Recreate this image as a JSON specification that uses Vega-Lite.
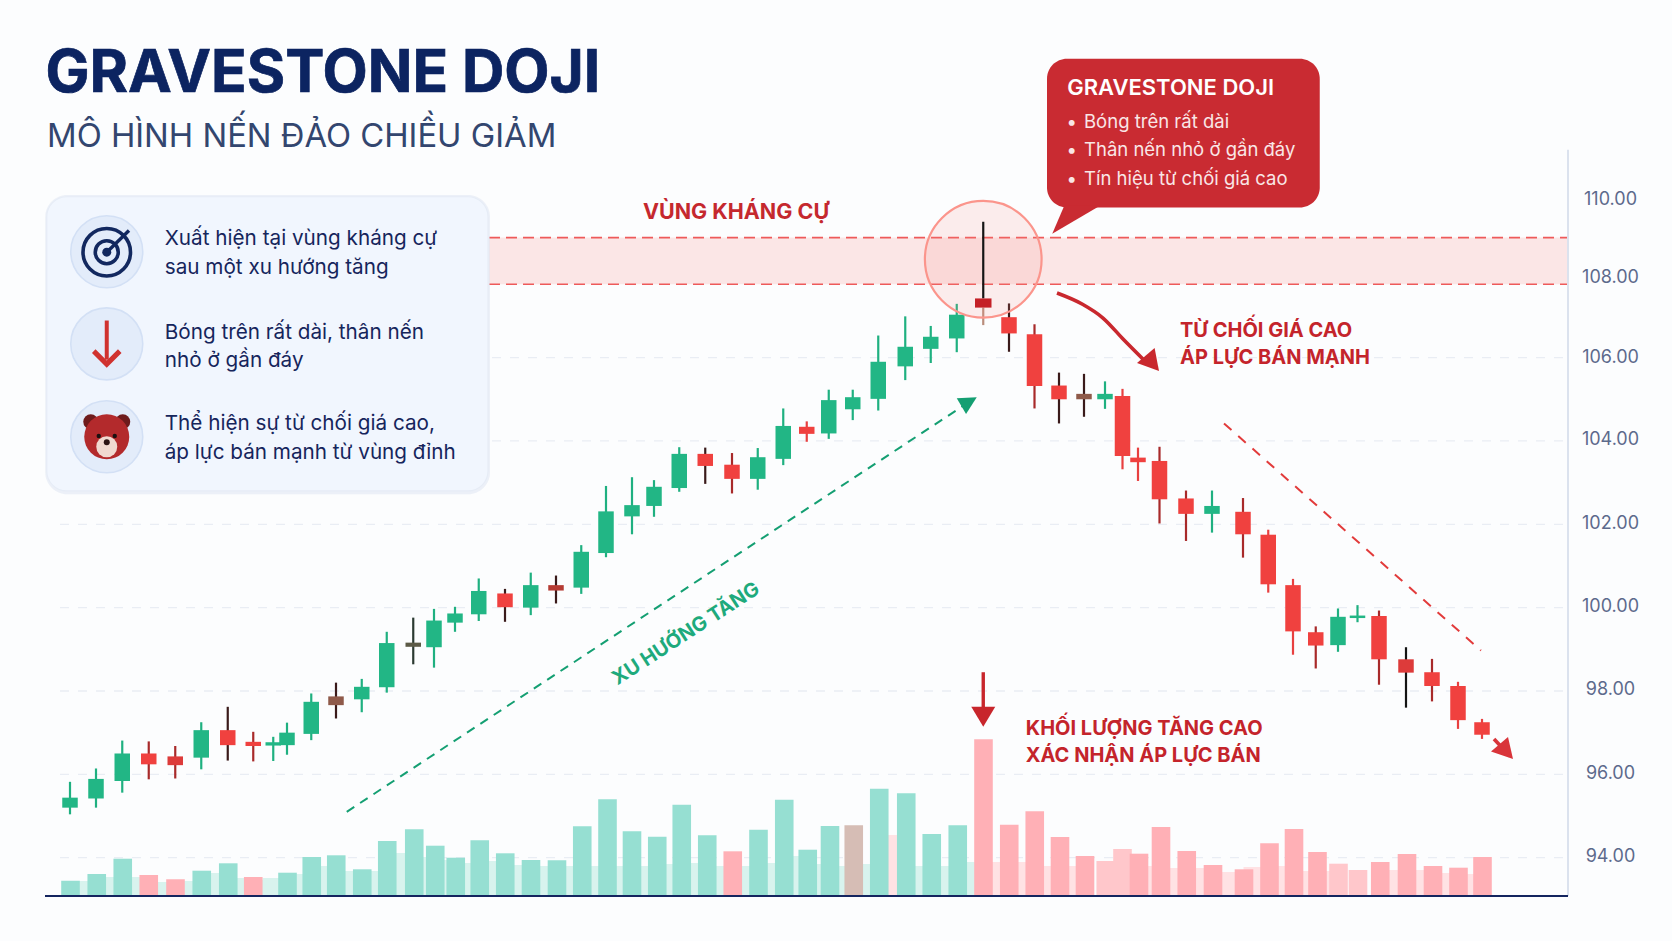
{
"$schema":"https://vega.github.io/schema/vega-lite/v6.json",
"width":1523,"height":748,"autosize":"none",
"padding":{"left":45,"top":148,"right":104,"bottom":45},
"background":"#fcfdfe",
"config":{"view":{"stroke":null},"text":{"font":"Inter"},"scale":{"continuousPadding":0}},
"datasets":{
"candles":[
{"t":0,"high":95.82,"open":95.2,"close":95.44,"low":95.04,"body":"bUp","wick":"wUp"},
{"t":1.04,"high":96.14,"open":95.42,"close":95.89,"low":95.2,"body":"bUp","wick":"wUp"},
{"t":2.09,"high":96.81,"open":95.84,"close":96.5,"low":95.56,"body":"bUp","wick":"wUp"},
{"t":3.15,"high":96.79,"open":96.5,"close":96.24,"low":95.88,"body":"bDown","wick":"wDeep"},
{"t":4.21,"high":96.68,"open":96.43,"close":96.22,"low":95.9,"body":"bMuted","wick":"wDeep"},
{"t":5.25,"high":97.25,"open":96.4,"close":97.06,"low":96.12,"body":"bUp","wick":"wUp"},
{"t":6.31,"high":97.62,"open":97.06,"close":96.7,"low":96.33,"body":"bDown","wick":"wDark"},
{"t":7.33,"high":97.02,"open":96.78,"close":96.68,"low":96.31,"body":"bDown","wick":"wDeep"},
{"t":8.13,"high":96.9,"open":96.69,"close":96.77,"low":96.32,"body":"bUp","wick":"wUp"},
{"t":8.68,"high":97.24,"open":96.7,"close":97,"low":96.47,"body":"bUp","wick":"wUp"},
{"t":9.65,"high":97.94,"open":96.97,"close":97.74,"low":96.82,"body":"bUp","wick":"wUp"},
{"t":10.64,"high":98.2,"open":97.87,"close":97.66,"low":97.34,"body":"bBrown","wick":"wDark"},
{"t":11.67,"high":98.29,"open":97.8,"close":98.1,"low":97.49,"body":"bUp","wick":"wUp"},
{"t":12.67,"high":99.42,"open":98.09,"close":99.15,"low":97.96,"body":"bUp","wick":"wUp"},
{"t":13.73,"high":99.76,"open":99.16,"close":99.06,"low":98.64,"body":"bOlive","wick":"wOlive"},
{"t":14.56,"high":99.97,"open":99.05,"close":99.69,"low":98.56,"body":"bUp","wick":"wUp"},
{"t":15.4,"high":100.02,"open":99.64,"close":99.86,"low":99.42,"body":"bUp","wick":"wUp"},
{"t":16.35,"high":100.7,"open":99.84,"close":100.4,"low":99.68,"body":"bUp","wick":"wUp"},
{"t":17.4,"high":100.45,"open":100.34,"close":100.01,"low":99.66,"body":"bDown","wick":"wDark"},
{"t":18.43,"high":100.84,"open":100,"close":100.54,"low":99.82,"body":"bUp","wick":"wUp"},
{"t":19.44,"high":100.77,"open":100.54,"close":100.41,"low":100.1,"body":"bMaroon","wick":"wDark"},
{"t":20.45,"high":101.5,"open":100.48,"close":101.34,"low":100.33,"body":"bUp","wick":"wUp"},
{"t":21.44,"high":102.92,"open":101.31,"close":102.31,"low":101.21,"body":"bUp","wick":"wUp"},
{"t":22.48,"high":103.13,"open":102.19,"close":102.46,"low":101.76,"body":"bUp","wick":"wUp"},
{"t":23.36,"high":103.06,"open":102.44,"close":102.9,"low":102.18,"body":"bUp","wick":"wUp"},
{"t":24.37,"high":103.85,"open":102.87,"close":103.69,"low":102.78,"body":"bUp","wick":"wUp"},
{"t":25.41,"high":103.84,"open":103.69,"close":103.4,"low":102.97,"body":"bDown","wick":"wDark"},
{"t":26.48,"high":103.71,"open":103.43,"close":103.09,"low":102.74,"body":"bDown","wick":"wDeep"},
{"t":27.51,"high":103.83,"open":103.09,"close":103.61,"low":102.83,"body":"bUp","wick":"wUp"},
{"t":28.53,"high":104.78,"open":103.57,"close":104.36,"low":103.42,"body":"bUp","wick":"wUp"},
{"t":29.47,"high":104.47,"open":104.34,"close":104.17,"low":103.98,"body":"bDown","wick":"wDown"},
{"t":30.35,"high":105.23,"open":104.18,"close":104.98,"low":104.05,"body":"bUp","wick":"wUp"},
{"t":31.31,"high":105.23,"open":104.76,"close":105.05,"low":104.5,"body":"bUp","wick":"wUp"},
{"t":32.33,"high":106.53,"open":105.01,"close":105.9,"low":104.73,"body":"bUp","wick":"wUp"},
{"t":33.41,"high":106.99,"open":105.79,"close":106.26,"low":105.46,"body":"bUp","wick":"wUp"},
{"t":34.43,"high":106.76,"open":106.21,"close":106.5,"low":105.87,"body":"bUp","wick":"wUp"},
{"t":35.47,"high":107.29,"open":106.46,"close":107.03,"low":106.13,"body":"bUp","wick":"wUp"},
{"t":36.53,"high":109.26,"open":107.42,"close":107.2,"low":106.78,"body":"bDoji","wick":"wBlack"},
{"t":37.56,"high":107.3,"open":106.97,"close":106.58,"low":106.14,"body":"bDown","wick":"wDark"},
{"t":38.58,"high":106.8,"open":106.56,"close":105.32,"low":104.78,"body":"bDown","wick":"wDeep"},
{"t":39.56,"high":105.64,"open":105.33,"close":105,"low":104.42,"body":"bDown","wick":"wDark"},
{"t":40.56,"high":105.61,"open":105.13,"close":105,"low":104.58,"body":"bBrown","wick":"wDark"},
{"t":41.4,"high":105.43,"open":105,"close":105.13,"low":104.77,"body":"bUp","wick":"wUp"},
{"t":42.1,"high":105.25,"open":105.08,"close":103.64,"low":103.32,"body":"bDown","wick":"wDown"},
{"t":42.72,"high":103.84,"open":103.6,"close":103.49,"low":103.04,"body":"bDown","wick":"wDown"},
{"t":43.58,"high":103.86,"open":103.52,"close":102.6,"low":102.02,"body":"bDown","wick":"wDeep"},
{"t":44.64,"high":102.81,"open":102.62,"close":102.25,"low":101.6,"body":"bDown","wick":"wDeep"},
{"t":45.68,"high":102.81,"open":102.25,"close":102.44,"low":101.8,"body":"bUp","wick":"wUp"},
{"t":46.92,"high":102.63,"open":102.3,"close":101.76,"low":101.2,"body":"bDown","wick":"wDeep"},
{"t":47.93,"high":101.87,"open":101.75,"close":100.56,"low":100.36,"body":"bDown","wick":"wDown"},
{"t":48.92,"high":100.69,"open":100.54,"close":99.43,"low":98.87,"body":"bDown","wick":"wDown"},
{"t":49.83,"high":99.55,"open":99.41,"close":99.09,"low":98.54,"body":"bDown","wick":"wDeep"},
{"t":50.72,"high":99.98,"open":99.1,"close":99.78,"low":98.94,"body":"bUp","wick":"wUp"},
{"t":51.5,"high":100.06,"open":99.75,"close":99.81,"low":99.65,"body":"bUp","wick":"wUp"},
{"t":52.36,"high":99.93,"open":99.8,"close":98.76,"low":98.15,"body":"bDown","wick":"wDeep"},
{"t":53.44,"high":99.05,"open":98.76,"close":98.44,"low":97.6,"body":"bMuted","wick":"wBlack"},
{"t":54.48,"high":98.77,"open":98.45,"close":98.12,"low":97.75,"body":"bDown","wick":"wDeep"},
{"t":55.52,"high":98.22,"open":98.12,"close":97.3,"low":97.09,"body":"bDown","wick":"wDown"},
{"t":56.48,"high":97.33,"open":97.25,"close":96.95,"low":96.85,"body":"bDown","wick":"wDown"}
],
"volume":[
{"t":0.02,"v":153,"c":"vTeal"},{"t":1.07,"v":220,"c":"vTeal"},{"t":2.11,"v":373,"c":"vTeal"},{"t":3.15,"v":210,"c":"vPink"},{"t":4.22,"v":167,"c":"vPink"},{"t":5.27,"v":253,"c":"vTeal"},{"t":6.33,"v":327,"c":"vTeal"},{"t":7.33,"v":190,"c":"vPink"},{"t":8.7,"v":233,"c":"vTeal"},{"t":9.67,"v":390,"c":"vTeal"},{"t":10.65,"v":407,"c":"vTeal"},{"t":11.69,"v":267,"c":"vTeal"},{"t":12.69,"v":550,"c":"vTeal"},{"t":13.77,"v":667,"c":"vTeal"},{"t":14.61,"v":503,"c":"vTeal"},{"t":15.43,"v":383,"c":"vTeal"},{"t":16.39,"v":557,"c":"vTeal"},{"t":17.41,"v":427,"c":"vTeal"},{"t":18.44,"v":360,"c":"vTeal"},{"t":19.48,"v":357,"c":"vTeal"},{"t":20.49,"v":697,"c":"vTeal"},{"t":21.5,"v":967,"c":"vTeal"},{"t":22.48,"v":647,"c":"vTeal"},{"t":23.49,"v":593,"c":"vTeal"},{"t":24.47,"v":913,"c":"vTeal"},{"t":25.49,"v":607,"c":"vTeal"},{"t":26.51,"v":447,"c":"vPink"},{"t":27.54,"v":663,"c":"vTeal"},{"t":28.57,"v":963,"c":"vTeal"},{"t":29.51,"v":463,"c":"vTeal"},{"t":30.4,"v":700,"c":"vTeal"},{"t":31.35,"v":707,"c":"vTan"},{"t":32.37,"v":1073,"c":"vTeal"},{"t":33.45,"v":1027,"c":"vTeal"},{"t":34.47,"v":620,"c":"vTeal"},{"t":35.51,"v":707,"c":"vTeal"},{"t":36.54,"v":1567,"c":"vPink"},{"t":37.57,"v":713,"c":"vPink"},{"t":38.59,"v":847,"c":"vPink"},{"t":39.6,"v":590,"c":"vPink"},{"t":40.6,"v":400,"c":"vPink"},{"t":41.43,"v":350,"c":"vPinkLight"},{"t":42.1,"v":470,"c":"vPinkLight"},{"t":42.76,"v":423,"c":"vPink"},{"t":43.64,"v":690,"c":"vPink"},{"t":44.67,"v":450,"c":"vPink"},{"t":45.72,"v":310,"c":"vPink"},{"t":46.96,"v":267,"c":"vPink"},{"t":47.98,"v":527,"c":"vPink"},{"t":48.96,"v":670,"c":"vPink"},{"t":49.9,"v":440,"c":"vPink"},{"t":50.74,"v":323,"c":"vPinkLight"},{"t":51.52,"v":260,"c":"vPinkLight"},{"t":52.41,"v":340,"c":"vPink"},{"t":53.48,"v":420,"c":"vPink"},{"t":54.52,"v":300,"c":"vPink"},{"t":55.54,"v":283,"c":"vPink"},{"t":56.5,"v":390,"c":"vPink"}
],
"faint":[
{"t":0.52,"v":150,"c":"fTeal"},{"t":1.6,"v":190,"c":"fTeal"},{"t":2.64,"v":190,"c":"fTeal"},{"t":3.68,"v":140,"c":"fTeal"},{"t":4.72,"v":150,"c":"fTeal"},{"t":5.8,"v":230,"c":"fTeal"},{"t":6.84,"v":180,"c":"fTeal"},{"t":7.84,"v":160,"c":"fTeal"},{"t":8.08,"v":180,"c":"fTeal"},{"t":9.16,"v":220,"c":"fTeal"},{"t":10.16,"v":300,"c":"fTeal"},{"t":11.16,"v":250,"c":"fTeal"},{"t":12.2,"v":250,"c":"fTeal"},{"t":13.2,"v":430,"c":"fTeal"},{"t":14.2,"v":390,"c":"fTeal"},{"t":15,"v":360,"c":"fTeal"},{"t":15.88,"v":330,"c":"fTeal"},{"t":16.88,"v":350,"c":"fTeal"},{"t":17.92,"v":310,"c":"fTeal"},{"t":18.96,"v":300,"c":"fTeal"},{"t":20,"v":300,"c":"fTeal"},{"t":21,"v":300,"c":"fTeal"},{"t":22,"v":300,"c":"fTeal"},{"t":23,"v":300,"c":"fTeal"},{"t":24,"v":320,"c":"fTeal"},{"t":25,"v":330,"c":"fTeal"},{"t":26,"v":300,"c":"fTeal"},{"t":27,"v":300,"c":"fTeal"},{"t":28.04,"v":330,"c":"fTeal"},{"t":29.04,"v":400,"c":"fTeal"},{"t":29.96,"v":320,"c":"fTeal"},{"t":30.88,"v":300,"c":"fTeal"},{"t":31.84,"v":320,"c":"fTeal"},{"t":32.92,"v":610,"c":"fPink"},{"t":33.92,"v":300,"c":"fTeal"},{"t":35,"v":300,"c":"fTeal"},{"t":36,"v":340,"c":"fTeal"},{"t":37.08,"v":340,"c":"fPink"},{"t":38.08,"v":340,"c":"fPink"},{"t":39.08,"v":300,"c":"fPink"},{"t":40.08,"v":300,"c":"fPink"},{"t":43.2,"v":300,"c":"fPink"},{"t":44.16,"v":280,"c":"fPink"},{"t":45.2,"v":280,"c":"fPink"},{"t":46.32,"v":240,"c":"fPink"},{"t":47.32,"v":290,"c":"fPink"},{"t":48.44,"v":300,"c":"fPink"},{"t":49.44,"v":250,"c":"fPink"},{"t":50.32,"v":250,"c":"fPink"},{"t":52.92,"v":260,"c":"fPink"},{"t":53.96,"v":260,"c":"fPink"},{"t":55,"v":230,"c":"fPink"},{"t":56,"v":220,"c":"fPink"}
],
"grid":[{"t":-0.4,"t2":59.92,"p":94},{"t":-0.4,"t2":59.92,"p":96},{"t":-0.4,"t2":59.92,"p":98},{"t":-0.4,"t2":59.92,"p":100},{"t":-0.4,"t2":59.92,"p":102},{"t":-0.4,"t2":59.92,"p":104},{"t":-0.4,"t2":59.92,"p":106}],
"zone":[{"t":16.76,"t2":59.92,"p":108.88,"p2":107.76}],
"boxes":[
{"kind":"panelShadow","t":-0.99,"t2":16.8,"p":109.9,"p2":102.72},
{"kind":"panel","t":-0.93,"t2":16.72,"p":109.86,"p2":102.8},
{"kind":"callout","t":39.08,"t2":49.99,"p":113.17,"p2":109.6}
],
"notes":[
{"kind":"title","t":-0.98,"p":112.9,"text":"GRAVESTONE DOJI"},
{"kind":"subtitle","t":-0.92,"p":111.37,"text":"MÔ HÌNH NẾN ĐẢO CHIỀU GIẢM"},
{"kind":"panelText","t":3.79,"p":108.87,"text":"Xuất hiện tại vùng kháng cự"},
{"kind":"panelText","t":3.79,"p":108.17,"text":"sau một xu hướng tăng"},
{"kind":"panelText","t":3.79,"p":106.62,"text":"Bóng trên rất dài, thân nến"},
{"kind":"panelText","t":3.79,"p":105.94,"text":"nhỏ ở gần đáy"},
{"kind":"panelText","t":3.79,"p":104.43,"text":"Thể hiện sự từ chối giá cao,"},
{"kind":"panelText","t":3.79,"p":103.74,"text":"áp lực bán mạnh từ vùng đỉnh"},
{"kind":"calloutTitle","t":39.89,"p":112.46,"text":"GRAVESTONE DOJI"},
{"kind":"calloutText","t":40.56,"p":111.66,"text":"Bóng trên rất dài"},
{"kind":"calloutText","t":40.56,"p":111,"text":"Thân nến nhỏ ở gần đáy"},
{"kind":"calloutText","t":40.56,"p":110.3,"text":"Tín hiệu từ chối giá cao"},
{"kind":"calloutText","t":39.86,"p":111.66,"text":"•"},
{"kind":"calloutText","t":39.86,"p":111,"text":"•"},
{"kind":"calloutText","t":39.86,"p":110.3,"text":"•"},
{"kind":"redLabel","t":44.4,"p":106.66,"text":"TỪ CHỐI GIÁ CAO"},
{"kind":"redLabel","t":44.4,"p":106.02,"text":"ÁP LỰC BÁN MẠNH"},
{"kind":"redLabel","t":38.23,"p":97.12,"text":"KHỐI LƯỢNG TĂNG CAO"},
{"kind":"redLabel","t":38.23,"p":96.46,"text":"XÁC NHẬN ÁP LỰC BÁN"},
{"kind":"zoneLabel","t":26.64,"p":109.52,"text":"VÙNG KHÁNG CỰ"},
{"kind":"trendLabel","t":24.64,"p":99.37,"text":"XU HƯỚNG TĂNG"}
],
"paths":[
{"path":"green","n":0,"t":11.07,"p":95.1},{"path":"green","n":1,"t":35.72,"p":104.84},
{"path":"redDash","n":0,"t":46.16,"p":104.42},{"path":"redDash","n":1,"t":56.44,"p":98.97},
{"path":"curve","n":0,"t":39.48,"p":107.55},{"path":"curve","n":1,"t":40.5,"p":107.28},{"path":"curve","n":2,"t":41.32,"p":106.95},{"path":"curve","n":3,"t":42.16,"p":106.42},{"path":"curve","n":4,"t":43.04,"p":105.89},
{"path":"stem","n":0,"t":56.96,"p":96.85},{"path":"stem","n":1,"t":57.6,"p":96.44},
{"path":"volStem","n":0,"t":36.53,"p":98.45},{"path":"volStem","n":1,"t":36.53,"p":97.54},
{"path":"iconDial","n":0,"t":1.47,"p":108.53},{"path":"iconDial","n":1,"t":2.36,"p":109.05},
{"path":"iconDown","n":0,"t":1.47,"p":106.89},{"path":"iconDown","n":1,"t":1.47,"p":105.95}
],
"heads":[
{"name":"green","t":36.27,"p":105.05},
{"name":"curve","t":43.56,"p":105.68},
{"name":"stem","t":57.72,"p":96.37},
{"name":"vol","t":36.53,"p":97.14},
{"name":"tail","t":39.29,"p":108.97},
{"name":"icon","t":1.47,"p":105.82}
],
"icons":[
{"part":"disc","t":1.47,"p":108.54},{"part":"disc","t":1.47,"p":106.33},{"part":"disc","t":1.47,"p":104.1},
{"part":"ear","t":0.83,"p":104.46},{"part":"ear","t":2.11,"p":104.46},
{"part":"head","t":1.47,"p":104.1},
{"part":"muzzle","t":1.47,"p":103.86},
{"part":"eye","t":1.15,"p":104.12},{"part":"eye","t":1.79,"p":104.12},
{"part":"nose","t":1.47,"p":103.97},
{"part":"hub","t":1.47,"p":108.53}
],
"rings":[{"r":"outer","t":1.47,"p":108.53},{"r":"inner","t":1.47,"p":108.53}],
"spot":[{"t":36.53,"p":108.36}]
},
"layer":[
{"data":{"name":"grid"},"mark":{"type":"rule","color":"#e9edf4","strokeWidth":1.3,"strokeDash":[9,9]},
 "encoding":{
  "x":{"field":"t","type":"quantitative","scale":{"domain":[-1,59.92],"nice":false,"zero":false,"padding":0},"axis":null},
  "x2":{"field":"t2"},
  "y":{"field":"p","type":"quantitative","scale":{"domain":[93.08,111.03],"nice":false,"zero":false},
   "axis":{"orient":"right","title":null,"values":[94,96,98,100,102,104,106,108,110],"format":".2f","grid":false,"ticks":false,"domain":false,"labelAlign":"center","labelPadding":42,"labelFont":"Inter","labelFontSize":18,"labelColor":"#5c6a8c","labelBound":false,"labelOverlap":false,
    "labelOffset":{"condition":[{"test":"datum.value>=110","value":8.8},{"test":"datum.value>=108","value":3.5},{"test":"datum.value>=106","value":0.3}],"value":-1}}}
 }},
{"encoding":{
  "x":{"field":"t","type":"quantitative","scale":{"domain":[-1,59.92],"nice":false,"zero":false,"padding":0},"axis":null},
  "y":{"field":"p","type":"quantitative","scale":{"domain":[93.08,111.03],"nice":false,"zero":false},"axis":null}},
 "layer":[
  {"data":{"name":"zone"},"mark":{"type":"rect","color":"#fbdcdd","opacity":0.72},"encoding":{"x2":{"field":"t2"},"y2":{"field":"p2"}}},
  {"data":{"name":"zone"},"mark":{"type":"rule","color":"#ee5a5a","strokeWidth":1.6,"strokeDash":[11,6]},"encoding":{"x2":{"field":"t2"}}},
  {"data":{"name":"zone"},"mark":{"type":"rule","color":"#ee5a5a","strokeWidth":1.6,"strokeDash":[11,6]},"encoding":{"x2":{"field":"t2"},"y":{"field":"p2","type":"quantitative","scale":{"domain":[93.08,111.03],"nice":false,"zero":false},"axis":null}}}
 ]},
{"encoding":{
  "x":{"field":"t","type":"quantitative","scale":{"domain":[-1,59.92],"nice":false,"zero":false,"padding":0},"axis":null},
  "y":{"field":"v","type":"quantitative","scale":{"domain":[0,7480],"nice":false,"zero":false},"axis":null},
  "color":{"field":"c","type":"nominal","legend":null,"scale":{"domain":["vTeal","vPink","vPinkLight","vTan","fTeal","fPink","wUp","wDown","wDeep","wDark","wBlack","wOlive","bUp","bDown","bBrown","bOlive","bMaroon","bDoji","bMuted","disc","ear","head","muzzle","eye","nose","hub"],"range":["#96dfd2","#ffb0b6","#ffc7cb","#d6bdb5","#d8f3ee","#ffe2e4","#1fb080","#e84040","#a82a2a","#3a1a1a","#141414","#2b3a32","#22b685","#f0413f","#8f5a4a","#5c5a46","#b53b33","#c42027","#dd3b3a","#e3ecfa","#6e1b1c","#b32a2c","#f0d9d0","#1c1010","#2b1414","#12285f"]}}},
 "layer":[
  {"data":{"name":"faint"},"mark":{"type":"bar","size":19}},
  {"data":{"name":"volume"},"mark":{"type":"bar","size":18.6}}
 ]},
{"encoding":{
  "x":{"field":"t","type":"quantitative","scale":{"domain":[-1,59.92],"nice":false,"zero":false,"padding":0},"axis":null},
  "y":{"field":"p","type":"quantitative","scale":{"domain":[93.08,111.03],"nice":false,"zero":false},"axis":null}},
 "layer":[
  {"data":{"name":"candles"},"transform":[{"filter":"datum.body!='bDoji'"}],"mark":{"type":"rule","strokeWidth":2.2},
   "encoding":{"y":{"field":"high","type":"quantitative","scale":{"domain":[93.08,111.03],"nice":false,"zero":false},"axis":null},"y2":{"field":"low"},
   "color":{"field":"wick","type":"nominal","legend":null,"scale":{"domain":["vTeal","vPink","vPinkLight","vTan","fTeal","fPink","wUp","wDown","wDeep","wDark","wBlack","wOlive","bUp","bDown","bBrown","bOlive","bMaroon","bDoji","bMuted","disc","ear","head","muzzle","eye","nose","hub"],"range":["#96dfd2","#ffb0b6","#ffc7cb","#d6bdb5","#d8f3ee","#ffe2e4","#1fb080","#e84040","#a82a2a","#3a1a1a","#141414","#2b3a32","#22b685","#f0413f","#8f5a4a","#5c5a46","#b53b33","#c42027","#dd3b3a","#e3ecfa","#6e1b1c","#b32a2c","#f0d9d0","#1c1010","#2b1414","#12285f"]}}}},
  {"data":{"name":"candles"},"transform":[{"filter":"datum.body!='bDoji'"}],"mark":{"type":"bar","size":15.5},
   "encoding":{"y":{"field":"open","type":"quantitative","scale":{"domain":[93.08,111.03],"nice":false,"zero":false},"axis":null},"y2":{"field":"close"},
   "color":{"field":"body","type":"nominal","legend":null,"scale":{"domain":["vTeal","vPink","vPinkLight","vTan","fTeal","fPink","wUp","wDown","wDeep","wDark","wBlack","wOlive","bUp","bDown","bBrown","bOlive","bMaroon","bDoji","bMuted","disc","ear","head","muzzle","eye","nose","hub"],"range":["#96dfd2","#ffb0b6","#ffc7cb","#d6bdb5","#d8f3ee","#ffe2e4","#1fb080","#e84040","#a82a2a","#3a1a1a","#141414","#2b3a32","#22b685","#f0413f","#8f5a4a","#5c5a46","#b53b33","#c42027","#dd3b3a","#e3ecfa","#6e1b1c","#b32a2c","#f0d9d0","#1c1010","#2b1414","#12285f"]}}}},
  {"data":{"name":"candles"},"transform":[{"filter":"datum.body=='bDoji'"}],"mark":{"type":"rule","strokeWidth":2.2,"color":"#b98d7c"},
   "encoding":{"y":{"field":"close","type":"quantitative","scale":{"domain":[93.08,111.03],"nice":false,"zero":false},"axis":null},"y2":{"field":"low"}}},
  {"data":{"name":"spot"},"mark":{"type":"point","shape":"circle","filled":true,"size":13619,"fill":"#fb8f86","fillOpacity":0.15,"stroke":"#fb958c","strokeWidth":2.2,"strokeOpacity":1}},
  {"data":{"name":"candles"},"transform":[{"filter":"datum.body=='bDoji'"}],"mark":{"type":"rule","strokeWidth":2.2,"color":"#141414"},
   "encoding":{"y":{"field":"high","type":"quantitative","scale":{"domain":[93.08,111.03],"nice":false,"zero":false},"axis":null},"y2":{"field":"open"}}},
  {"data":{"name":"candles"},"transform":[{"filter":"datum.body=='bDoji'"}],"mark":{"type":"bar","size":16.5,"color":"#c42027"},
   "encoding":{"y":{"field":"open","type":"quantitative","scale":{"domain":[93.08,111.03],"nice":false,"zero":false},"axis":null},"y2":{"field":"close"}}},

  {"data":{"name":"paths"},"transform":[{"filter":"datum.path=='green'"}],"mark":{"type":"line","color":"#149f72","strokeWidth":2,"strokeDash":[9,7]},"encoding":{"order":{"field":"n"}}},
  {"data":{"name":"paths"},"transform":[{"filter":"datum.path=='redDash'"}],"mark":{"type":"line","color":"#e23b3b","strokeWidth":2,"strokeDash":[10,9]},"encoding":{"order":{"field":"n"}}},
  {"data":{"name":"paths"},"transform":[{"filter":"datum.path=='curve'"}],"mark":{"type":"line","color":"#c9282e","strokeWidth":3.6,"interpolate":"monotone"},"encoding":{"order":{"field":"n"}}},
  {"data":{"name":"paths"},"transform":[{"filter":"datum.path=='stem'"}],"mark":{"type":"line","color":"#d9343a","strokeWidth":3.6},"encoding":{"order":{"field":"n"}}},
  {"data":{"name":"paths"},"transform":[{"filter":"datum.path=='volStem'"}],"mark":{"type":"line","color":"#c8262c","strokeWidth":3.4},"encoding":{"order":{"field":"n"}}},
  {"data":{"name":"heads"},"transform":[{"filter":"datum.name=='green'"}],"mark":{"type":"point","filled":true,"size":4,"opacity":1,"color":"#149f72","shape":"M0,0L-20,1L-10.7,16.7Z"}},
  {"data":{"name":"heads"},"transform":[{"filter":"datum.name=='curve'"}],"mark":{"type":"point","filled":true,"size":4,"opacity":1,"color":"#c9282e","shape":"M0,0L-4.4,-23L-22,-8Z"}},
  {"data":{"name":"heads"},"transform":[{"filter":"datum.name=='stem'"}],"mark":{"type":"point","filled":true,"size":4,"opacity":1,"color":"#d9343a","shape":"M0,0L-5,-22L-22,-7.3Z"}},
  {"data":{"name":"heads"},"transform":[{"filter":"datum.name=='vol'"}],"mark":{"type":"point","filled":true,"size":4,"opacity":1,"color":"#c8262c","shape":"M0,0L-12,-20L12,-20Z"}},

  {"data":{"name":"boxes"},"transform":[{"filter":"datum.kind=='panelShadow'"}],"mark":{"type":"rect","cornerRadius":22,"color":"#dfe6f2","opacity":0.55},"encoding":{"x2":{"field":"t2"},"y2":{"field":"p2"}}},
  {"data":{"name":"boxes"},"transform":[{"filter":"datum.kind=='panel'"}],"mark":{"type":"rect","cornerRadius":20,"opacity":1,"stroke":"#e6ecf6","strokeWidth":1.2,"color":"#f1f6fe"},"encoding":{"x2":{"field":"t2"},"y2":{"field":"p2"}}},
  {"data":{"name":"boxes"},"transform":[{"filter":"datum.kind=='callout'"}],"mark":{"type":"rect","cornerRadius":20,"color":"#c92b32","opacity":1},"encoding":{"x2":{"field":"t2"},"y2":{"field":"p2"}}},
  {"data":{"name":"heads"},"transform":[{"filter":"datum.name=='tail'"}],"mark":{"type":"point","filled":true,"size":4,"opacity":1,"color":"#c92b32","shape":"M0,0L12,-28L47.7,-28Z"}},

  {"data":{"name":"icons"},"mark":{"type":"point","filled":true,"opacity":1,"shape":"circle"},
   "encoding":{"size":{"field":"part","type":"nominal","legend":null,"scale":{"type":"ordinal","domain":["disc","ear","head","muzzle","eye","nose","hub"],"range":[5184,225,2025,441,19,36,81]}},
   "color":{"field":"part","type":"nominal","legend":null,"scale":{"domain":["vTeal","vPink","vPinkLight","vTan","fTeal","fPink","wUp","wDown","wDeep","wDark","wBlack","wOlive","bUp","bDown","bBrown","bOlive","bMaroon","bDoji","bMuted","disc","ear","head","muzzle","eye","nose","hub"],"range":["#96dfd2","#ffb0b6","#ffc7cb","#d6bdb5","#d8f3ee","#ffe2e4","#1fb080","#e84040","#a82a2a","#3a1a1a","#141414","#2b3a32","#22b685","#f0413f","#8f5a4a","#5c5a46","#b53b33","#c42027","#dd3b3a","#e3ecfa","#6e1b1c","#b32a2c","#f0d9d0","#1c1010","#2b1414","#12285f"]}}}},
  {"data":{"name":"icons"},"transform":[{"filter":"datum.part=='disc'"}],"mark":{"type":"point","shape":"circle","size":5184,"fill":null,"stroke":"#d3e0f5","strokeWidth":1.6,"opacity":1}},
  {"data":{"name":"rings"},"transform":[{"filter":"datum.r=='outer'"}],"mark":{"type":"point","shape":"circle","size":2256,"fill":null,"stroke":"#12285f","strokeWidth":3.6,"opacity":1}},
  {"data":{"name":"rings"},"transform":[{"filter":"datum.r=='inner'"}],"mark":{"type":"point","shape":"circle","size":529,"fill":null,"stroke":"#12285f","strokeWidth":3.6,"opacity":1}},
  {"data":{"name":"paths"},"transform":[{"filter":"datum.path=='iconDial'"}],"mark":{"type":"line","color":"#12285f","strokeWidth":3.4},"encoding":{"order":{"field":"n"}}},
  {"data":{"name":"paths"},"transform":[{"filter":"datum.path=='iconDown'"}],"mark":{"type":"line","color":"#d0322f","strokeWidth":4},"encoding":{"order":{"field":"n"}}},
  {"data":{"name":"heads"},"transform":[{"filter":"datum.name=='icon'"}],"mark":{"type":"point","filled":false,"size":4,"opacity":1,"stroke":"#d0322f","strokeWidth":5,"shape":"M-13,-14L0,-1L13,-14"}},

  {"data":{"name":"notes"},"transform":[{"filter":"datum.kind=='title'"}],"mark":{"type":"text","align":"left","baseline":"middle","dy":3.5,"font":"Inter","fontWeight":700,"fontSize":58.7,"color":"#0c2461","stroke":"#0c2461","strokeWidth":0.7},"encoding":{"text":{"field":"text"}}},
  {"data":{"name":"notes"},"transform":[{"filter":"datum.kind=='subtitle'"}],"mark":{"type":"text","align":"left","baseline":"middle","dy":3,"font":"Inter","fontWeight":400,"fontSize":32.8,"color":"#33466f"},"encoding":{"text":{"field":"text"}}},
  {"data":{"name":"notes"},"transform":[{"filter":"datum.kind=='panelText'"}],"mark":{"type":"text","align":"left","baseline":"middle","dy":1.2,"font":"Inter","fontWeight":400,"fontSize":20.7,"color":"#16255c"},"encoding":{"text":{"field":"text"}}},
  {"data":{"name":"notes"},"transform":[{"filter":"datum.kind=='calloutTitle'"}],"mark":{"type":"text","align":"left","baseline":"middle","dy":0,"font":"Inter","fontWeight":600,"fontSize":22,"color":"#ffffff"},"encoding":{"text":{"field":"text"}}},
  {"data":{"name":"notes"},"transform":[{"filter":"datum.kind=='calloutText'"}],"mark":{"type":"text","align":"left","baseline":"middle","dy":0.6,"font":"Inter","fontWeight":400,"fontSize":18.5,"color":"#f9e6e6"},"encoding":{"text":{"field":"text"}}},
  {"data":{"name":"notes"},"transform":[{"filter":"datum.kind=='redLabel'"}],"mark":{"type":"text","align":"left","baseline":"middle","dy":1,"font":"Inter","fontWeight":700,"fontSize":20,"color":"#c4242b"},"encoding":{"text":{"field":"text"}}},
  {"data":{"name":"notes"},"transform":[{"filter":"datum.kind=='zoneLabel'"}],"mark":{"type":"text","align":"center","baseline":"middle","dy":2,"font":"Inter","fontWeight":700,"fontSize":21.5,"color":"#c5282e"},"encoding":{"text":{"field":"text"}}},
  {"data":{"name":"notes"},"transform":[{"filter":"datum.kind=='trendLabel'"}],"mark":{"type":"text","align":"center","baseline":"middle","font":"Inter","fontWeight":700,"fontSize":20,"angle":-33,"color":"#1eaa7c"},"encoding":{"text":{"field":"text"}}},

  {"data":{"values":[{"t":59.92,"p":93.08,"p2":110.99}]},"mark":{"type":"rule","color":"#dbe2ee","strokeWidth":2},"encoding":{"y2":{"field":"p2"}}},
  {"data":{"values":[{"t":-1,"t2":59.92,"p":93.08}]},"mark":{"type":"rule","color":"#14255f","strokeWidth":2.2},"encoding":{"x2":{"field":"t2"}}}
 ]}
],
"resolve":{"scale":{"y":"independent"}}
}
